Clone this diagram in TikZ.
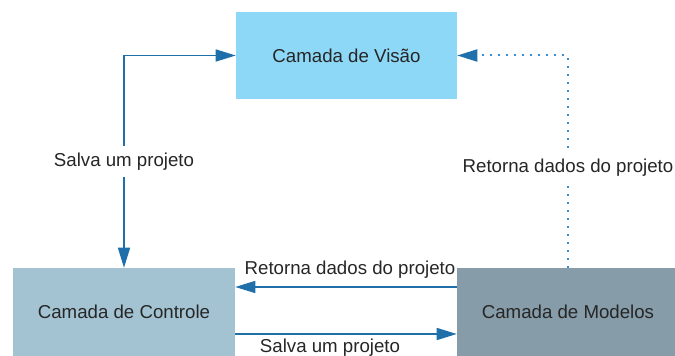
\documentclass[tikz,border=0pt]{standalone}
\usepackage{fontspec}
\setmainfont{Liberation Sans}
\usetikzlibrary{arrows.meta}
\definecolor{azulseta}{HTML}{1F6FAA}
\definecolor{azulponto}{HTML}{3D8BCB}
\definecolor{corvisao}{HTML}{8ED8F7}
\definecolor{corcontrole}{HTML}{A3C3D3}
\definecolor{cormodelos}{HTML}{869CA8}
\tikzset{>={Triangle[length=15pt,width=9pt]}}

\begin{document}
\begin{tikzpicture}[x=0.75pt,y=-0.75pt,
  font=\fontsize{14pt}{16pt}\selectfont,
  camada/.style={minimum width=166.5pt,minimum height=66pt,inner sep=0pt,text=black!85},
  seta/.style={draw=azulseta,line width=1.1pt},
  pontilhado/.style={draw=azulponto,line width=1.5pt,dash pattern=on 1.5pt off 4.5pt},
  rotulo/.style={text=black!85,inner xsep=2pt,inner ysep=5pt}]

  \useasboundingbox (0,0) rectangle (675,356);
  \clip (0,0) rectangle (675,356);

  \node[camada,fill=corvisao,minimum width=165.75pt,minimum height=65.25pt] (visao) at (346.5,55.5) {Camada de Vis\~ao}; %VISAO
  \node[camada,fill=corcontrole] (controle) at (124,312) {Camada de Controle}; %CONTROLE
  \node[camada,fill=cormodelos] (modelos) at (568,312) {Camada de Modelos}; %MODELOS

  \coordinate (cantoE) at (controle.north |- visao.west);
  \coordinate (cantoD) at (modelos.north |- visao.east);

  \draw[seta,<->] (visao.west) -- (cantoE) -- node[rotulo,fill=white]{Salva um projeto} (controle.north); %ESQUERDA
  \draw[pontilhado,-{Triangle[length=15pt,width=9pt,color=azulseta]}] (modelos.north) -- node[rotulo,fill=white,pos=.47]{Retorna dados do projeto} (cantoD) -- (visao.east); %DIREITA

  \draw[seta,->] ([yshift=18.75pt]modelos.west) -- node[rotulo,yshift=12.75pt,xshift=3pt]{Retorna dados do projeto} ([yshift=18.75pt]controle.east); %EMBAIXO-1
  \draw[seta,->] ([yshift=-16.5pt]controle.east) -- node[rotulo,yshift=-10pt,xshift=-12pt]{Salva um projeto} ([yshift=-16.5pt]modelos.west); %EMBAIXO-2

\end{tikzpicture}
\end{document}
